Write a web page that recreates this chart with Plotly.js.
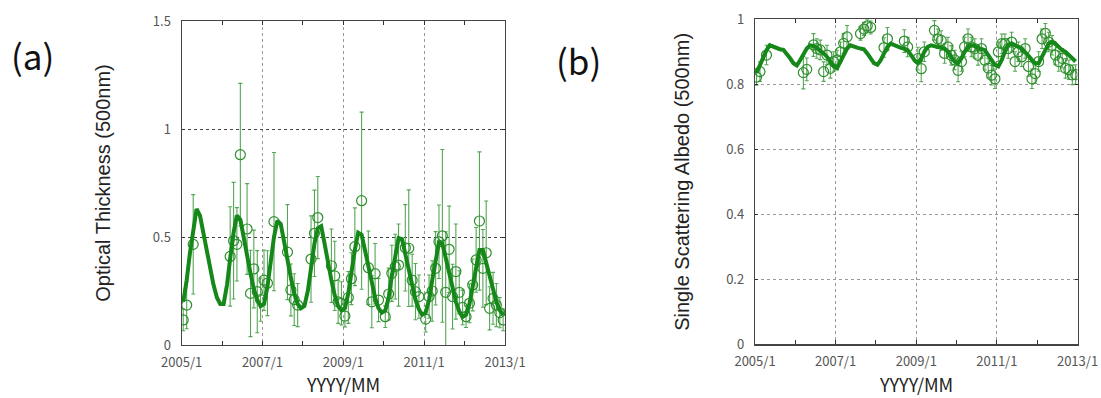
<!DOCTYPE html>
<html>
<head>
<meta charset="utf-8">
<script src="https://cdn.plot.ly/plotly-3.0.1.min.js"></script>
<style>
html,body{margin:0;padding:0;background:#fff;}
#chart{width:1101px;height:398px;}
</style>
</head>
<body>
<div id="chart"></div>
<script>
// ---------- DATA (month index k: 0 = 2005/1, 95 = 2012/12) ----------
// Panel (a): Optical Thickness (500nm)
const fitA = [
  0.20,0.30,0.42,0.54,0.63,0.60,0.52,0.43,0.35,0.28,0.22,0.19,
  0.19,0.28,0.40,0.52,0.60,0.58,0.50,0.41,0.33,0.26,0.21,0.18,
  0.19,0.27,0.39,0.50,0.575,0.56,0.48,0.39,0.31,0.24,0.19,0.17,
  0.18,0.25,0.36,0.47,0.54,0.55,0.47,0.38,0.30,0.23,0.18,0.16,
  0.17,0.24,0.34,0.44,0.52,0.51,0.44,0.36,0.28,0.22,0.17,0.15,
  0.16,0.22,0.32,0.42,0.495,0.49,0.42,0.34,0.27,0.21,0.165,0.14,
  0.15,0.21,0.30,0.40,0.475,0.47,0.40,0.33,0.26,0.20,0.155,0.13,
  0.14,0.19,0.27,0.36,0.44,0.44,0.38,0.31,0.25,0.20,0.16,0.14
];
const obsMonthsA = [0,1,3,14,15,16,17,19,20,21,22,23,24,25,27,31,32,33,34,38,39,40,44,45,46,47,48,49,50,51,53,55,56,57,58,60,61,62,63,64,66,67,68,69,70,72,73,74,75,76,77,78,79,80,81,82,83,84,85,86,87,88,89,90,91,92,93,94,95];
const obsA = [0.116,0.185,0.466,0.41,0.483,0.466,0.881,0.537,0.239,0.352,0.247,0.21,0.30,0.286,0.571,0.43,0.255,0.21,0.185,0.398,0.517,0.59,0.367,0.32,0.20,0.193,0.134,0.22,0.307,0.455,0.668,0.358,0.20,0.33,0.208,0.131,0.236,0.332,0.363,0.37,0.45,0.448,0.30,0.247,0.224,0.12,0.224,0.25,0.355,0.478,0.505,0.244,0.443,0.224,0.34,0.244,0.174,0.131,0.193,0.278,0.394,0.574,0.355,0.427,0.17,0.216,0.185,0.15,0.116];
const errA = [0.05,0.11,0.23,0.23,0.27,0.17,0.33,0.21,0.20,0.18,0.19,0.10,0.14,0.15,0.32,0.22,0.12,0.12,0.10,0.20,0.20,0.19,0.17,0.16,0.10,0.10,0.05,0.12,0.12,0.18,0.41,0.17,0.12,0.14,0.10,0.05,0.12,0.13,0.15,0.19,0.20,0.27,0.12,0.13,0.10,0.06,0.10,0.14,0.17,0.17,0.40,0.28,0.20,0.15,0.22,0.10,0.08,0.05,0.09,0.12,0.15,0.32,0.18,0.24,0.10,0.12,0.10,0.07,0.05];

// Panel (b): Single Scattering Albedo (500nm)
const fitB = [
  0.835,0.86,0.885,0.905,0.92,0.915,0.91,0.908,0.906,0.895,0.88,0.865,
  0.858,0.875,0.895,0.91,0.92,0.918,0.912,0.905,0.895,0.885,0.87,0.855,
  0.85,0.87,0.89,0.91,0.92,0.918,0.913,0.91,0.908,0.895,0.88,0.865,
  0.86,0.875,0.895,0.915,0.925,0.92,0.915,0.912,0.91,0.905,0.89,0.875,
  0.865,0.88,0.90,0.915,0.92,0.918,0.915,0.912,0.91,0.90,0.885,0.87,
  0.865,0.88,0.90,0.915,0.92,0.918,0.912,0.908,0.905,0.89,0.875,0.86,
  0.855,0.875,0.90,0.92,0.926,0.922,0.915,0.91,0.90,0.888,0.875,0.865,
  0.865,0.885,0.905,0.925,0.93,0.925,0.915,0.905,0.90,0.89,0.88,0.87
];
const obsMonthsB = [0,1,3,14,15,17,18,19,20,21,22,23,24,25,26,27,31,32,33,34,38,39,44,45,48,49,50,53,54,55,56,57,58,59,60,61,62,63,64,65,66,67,68,69,70,71,72,73,74,75,76,77,78,79,80,81,82,83,84,85,86,87,88,89,90,91,92,93,94,95];
const obsB = [0.822,0.839,0.89,0.836,0.846,0.921,0.91,0.906,0.839,0.89,0.849,0.87,0.875,0.90,0.926,0.946,0.956,0.97,0.98,0.975,0.913,0.94,0.933,0.915,0.879,0.848,0.90,0.966,0.94,0.935,0.895,0.915,0.889,0.875,0.843,0.87,0.915,0.94,0.915,0.91,0.889,0.91,0.874,0.85,0.828,0.817,0.90,0.925,0.925,0.91,0.93,0.87,0.90,0.885,0.91,0.855,0.817,0.833,0.87,0.94,0.957,0.93,0.92,0.89,0.87,0.88,0.849,0.845,0.829,0.83];
const errB = [0.025,0.03,0.03,0.05,0.035,0.035,0.03,0.03,0.03,0.03,0.03,0.03,0.03,0.03,0.03,0.035,0.02,0.02,0.02,0.02,0.03,0.035,0.035,0.03,0.035,0.04,0.03,0.03,0.03,0.03,0.03,0.03,0.03,0.03,0.035,0.03,0.03,0.03,0.03,0.03,0.03,0.03,0.03,0.03,0.03,0.03,0.03,0.03,0.03,0.03,0.03,0.03,0.03,0.03,0.03,0.03,0.03,0.03,0.03,0.03,0.03,0.03,0.03,0.03,0.03,0.03,0.03,0.03,0.03,0.03];

const xTitle = 'YYYY/MM';
const yTitleA = 'Optical Thickness (500nm)';
const yTitleB = 'Single Scattering Albedo (500nm)';
const panelLabels = ['(a)', '(b)'];

// ---------- helpers ----------
function toDate(k){
  const y = 2005 + Math.floor(k/12);
  const m = (k % 12) + 1;
  return y + '-' + String(m).padStart(2,'0') + '-15';
}
const fitMonths = fitA.map((_, i) => i);

const GREEN_LINE = '#16881a';
const GREEN_PT = '#2f8f2f';
const GREEN_ERR = 'rgba(55,150,55,0.85)';

function obsTrace(months, vals, errs, xa, ya){
  return {
    x: months.map(toDate), y: vals, xaxis: xa, yaxis: ya,
    type: 'scatter', mode: 'markers',
    marker: {symbol: 'circle-open', size: 10, color: GREEN_PT, line: {width: 1.2, color: GREEN_PT}},
    error_y: {type: 'data', array: errs, visible: true, color: GREEN_ERR, thickness: 1.1, width: 2},
    showlegend: false, hoverinfo: 'x+y', cliponaxis: true
  };
}
function fitTrace(vals, xa, ya){
  return {
    x: fitMonths.map(toDate), y: vals, xaxis: xa, yaxis: ya,
    type: 'scatter', mode: 'lines',
    line: {color: GREEN_LINE, width: 4},
    showlegend: false
  };
}

const data = [
  obsTrace(obsMonthsA, obsA, errA, 'x', 'y'),
  fitTrace(fitA, 'x', 'y'),
  obsTrace(obsMonthsB, obsB, errB, 'x2', 'y2'),
  fitTrace(fitB, 'x2', 'y2')
];

const tickFont = {family: '"Noto Sans CJK JP", "Liberation Sans", sans-serif', size: 13, color: '#555'};
const titleFontY = {family: '"Liberation Sans", Arial, sans-serif', size: 20, color: '#222'};
const titleFontX = {family: '"Noto Sans CJK JP", sans-serif', size: 18, color: '#222'};

const dA = [181.7/1101, 505/1101];
const dB = [755/1101, 1077.5/1101];

function xAxis(domain, anchor){
  return {
    domain: domain, anchor: anchor, type: 'date',
    range: ['2005-01-01', '2013-01-01'],
    tick0: '2005-01-01', dtick: 'M24', tickformat: '%Y/%-m',
    ticks: 'inside', ticklen: 4, tickcolor: '#333',
    showline: true, linecolor: '#444', linewidth: 1.2, mirror: 'ticks',
    showgrid: true, gridcolor: '#999', griddash: 'dot', gridwidth: 1,
    minor: {dtick: 'M12', tick0: '2005-01-01', ticks: 'inside', ticklen: 4, tickcolor: '#333', showgrid: false},
    tickfont: tickFont, ticklabelstandoff: 5,
    zeroline: false
  };
}
function yAxis(domain, anchor, range, dtick, title, gridcolor, standoff){
  return {
    domain: domain, anchor: anchor, range: range, dtick: dtick, tick0: 0,
    ticks: 'inside', ticklen: 3, tickcolor: '#333',
    showline: true, linecolor: '#444', linewidth: 1.2, mirror: 'ticks',
    showgrid: true, gridcolor: gridcolor, griddash: 'dot', gridwidth: 1,
    zeroline: false, tickfont: tickFont, ticklabelstandoff: 7,
    title: {text: title, font: titleFontY, standoff: standoff}
  };
}

function xTitleAnn(domain){
  return {text: xTitle, xref: 'paper', yref: 'paper',
    x: (domain[0] + domain[1]) / 2, y: 1 - 384/398,
    xanchor: 'center', yanchor: 'middle', showarrow: false, borderpad: 0, font: titleFontX};
}

const layout = {
  width: 1101, height: 398,
  margin: {l: 0, r: 0, t: 0, b: 0},
  paper_bgcolor: '#fff', plot_bgcolor: '#fff',
  showlegend: false,
  xaxis: xAxis(dA, 'y'),
  yaxis: yAxis([53/398, 377/398], 'x', [0, 1.5], 0.5, yTitleA, '#444', 36),
  xaxis2: xAxis(dB, 'y2'),
  yaxis2: yAxis([53.7/398, 378.7/398], 'x2', [0, 1], 0.2, yTitleB, '#999', 31),
  annotations: [
    xTitleAnn(dA),
    xTitleAnn(dB),
    {text: panelLabels[0], xref: 'paper', yref: 'paper', x: 32/1101, y: 1 - 55/398,
     xanchor: 'center', yanchor: 'middle', showarrow: false,
     font: {family: '"Noto Sans CJK JP", sans-serif', size: 35, color: '#111'}},
    {text: panelLabels[1], xref: 'paper', yref: 'paper', x: 578/1101, y: 1 - 60/398,
     xanchor: 'center', yanchor: 'middle', showarrow: false,
     font: {family: '"Noto Sans CJK JP", sans-serif', size: 35, color: '#111'}}
  ]
};

Plotly.newPlot('chart', data, layout, {staticPlot: true, displayModeBar: false});
</script>
</body>
</html>
